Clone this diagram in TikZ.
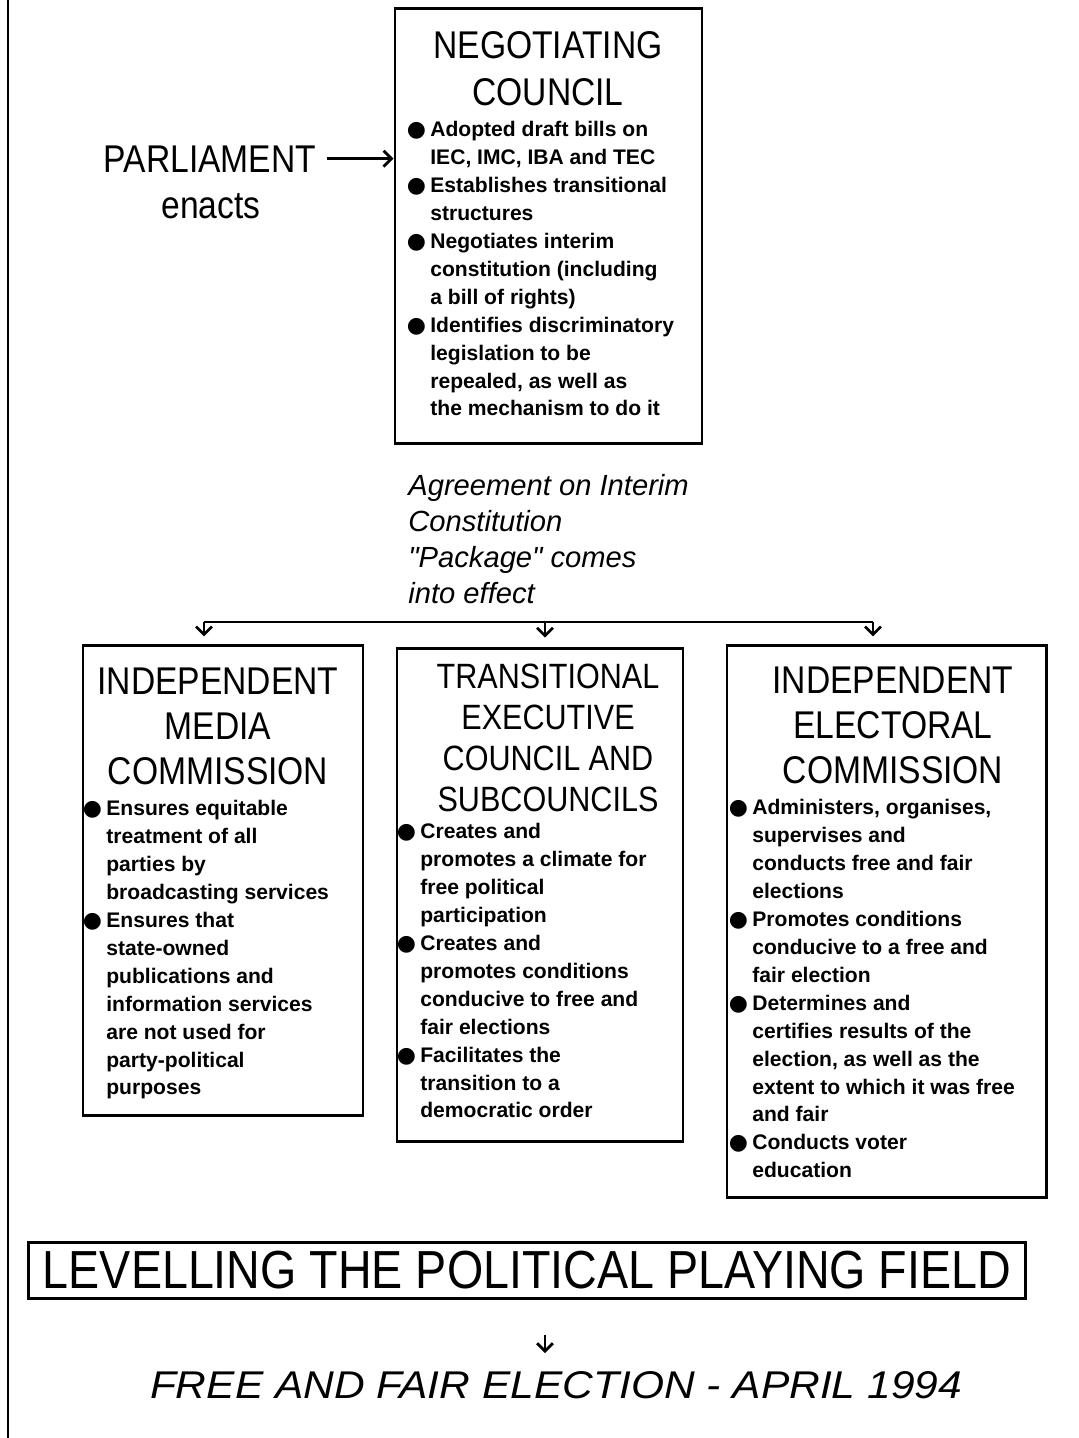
\documentclass[tikz,border=0pt]{standalone}
\usepackage{fontspec}
\setmainfont{Liberation Sans}[Ligatures=TeXOff]
\newfontfamily\headfont[FakeStretch=0.87]{Liberation Sans}
\newfontfamily\widefont[FakeStretch=1.1]{Liberation Sans}
\newfontfamily\dotfont{DejaVu Sans}
\usetikzlibrary{arrows.meta, fit}

\newcommand{\bul}{\llap{{\dotfont\fontsize{12.5}{10}\selectfont ●}\hspace{2.5pt}}}

\begin{document}
\begin{tikzpicture}[x=0.02cm, y=-0.02cm,
  panel/.style={rectangle, draw, line width=1.7pt, inner sep=0pt},
  head/.style={font=\headfont\fontsize{22}{25.5}\selectfont, align=center,
               anchor=north, inner sep=0pt},
  points/.style={font=\bfseries\fontsize{12}{15.9}\selectfont, align=left,
                 anchor=north west, inner sep=0pt},
  lbl/.style={font=\headfont\fontsize{22}{26}\selectfont, inner sep=0pt, anchor=base},
  arr/.style={-{Straight Barb[length=4.5pt, width=9pt]}, line width=1.6pt},
  bus/.style={line width=1.3pt},
]
\useasboundingbox (0,0) rectangle (1079,1438);

% margin rule
\draw[bus] (8,0) -- (8,1438);

% Negotiating council
\node[panel, fit={(395,8) (702,443)}] (nc) {};
\node[head, font=\headfont\fontsize{22}{26.6}\selectfont] (nchead) at (548,31)
  {NEGOTIATING\\COUNCIL};
\node[points] (ncpts) at (430,121) {%
  \bul Adopted draft bills on\\
  IEC, IMC, IBA and TEC\\
  \bul Establishes transitional\\
  structures\\
  \bul Negotiates interim\\
  constitution (including\\
  a bill of rights)\\
  \bul Identifies discriminatory\\
  legislation to be\\
  repealed, as well as\\
  the mechanism to do it};

% Parliament
\node[lbl] (parl) at (210,172) {PARLIAMENT};
\node[lbl] (enacts) at (211,218) {enacts};
\draw[arr, shorten <=6pt] (parl.east) -- (parl.east -| nc.west);

% Agreement
\node[font=\itshape\fontsize{16.6}{20.4}\selectfont, align=left, anchor=north west,
      inner sep=0pt] (agree) at (408,474)
  {Agreement on Interim\\Constitution\\"Package" comes\\into effect};

% Three bodies
\node[panel, fit={(83,645) (363,1115)}] (imc) {};
\node[head] (imchead) at (218,668) {INDEPENDENT\\MEDIA\\COMMISSION};
\node[points] (imcpts) at (106,800) {%
  \bul Ensures equitable\\
  treatment of all\\
  parties by\\
  broadcasting services\\
  \bul Ensures that\\
  state-owned\\
  publications and\\
  information services\\
  are not used for\\
  party-political\\
  purposes};

\node[panel, fit={(397,648) (683,1141)}] (tec) {};
\node[head, font=\headfont\fontsize{20}{23.2}\selectfont] (techead) at (548,664)
  {TRANSITIONAL\\EXECUTIVE\\COUNCIL AND\\SUBCOUNCILS};
\node[points] (tecpts) at (420,823) {%
  \bul Creates and\\
  promotes a climate for\\
  free political\\
  participation\\
  \bul Creates and\\
  promotes conditions\\
  conducive to free and\\
  fair elections\\
  \bul Facilitates the\\
  transition to a\\
  democratic order};

\node[panel, fit={(727,645) (1046,1197)}] (iec) {};
\node[head] (iechead) at (893,667) {INDEPENDENT\\ELECTORAL\\COMMISSION};
\node[points] (iecpts) at (752,799) {%
  \bul Administers, organises,\\
  supervises and\\
  conducts free and fair\\
  elections\\
  \bul Promotes conditions\\
  conducive to a free and\\
  fair election\\
  \bul Determines and\\
  certifies results of the\\
  election, as well as the\\
  extent to which it was free\\
  and fair\\
  \bul Conducts voter\\
  education};

% split into the three bodies
\coordinate (bus-l) at (204,622);
\coordinate (bus-m) at (545,622);
\coordinate (bus-r) at (873,622);
\draw[bus] (bus-l) -- (bus-r);
\draw[arr, shorten >=4pt] (bus-l) -- (bus-l |- imc.north);
\draw[arr, shorten >=5pt] (bus-m) -- (bus-m |- tec.north);
\draw[arr, shorten >=4pt] (bus-r) -- (bus-r |- iec.north);

% Levelling the field
\node[panel, font=\headfont\fontsize{30.5}{34}\selectfont,
      minimum width=19.96cm, minimum height=1.12cm] (level) at (527,1270)
  {LEVELLING THE POLITICAL PLAYING FIELD};
\node[font=\widefont\itshape\fontsize{22}{26}\selectfont, inner sep=0pt,
      anchor=base] (vote) at (556,1398) {FREE AND FAIR ELECTION - APRIL 1994};
\draw[arr, shorten <=20pt, shorten >=10pt] ([xshift=0.36cm]level.south)
  -- ([xshift=0.36cm]level.south |- vote.north);

\end{tikzpicture}
\end{document}
